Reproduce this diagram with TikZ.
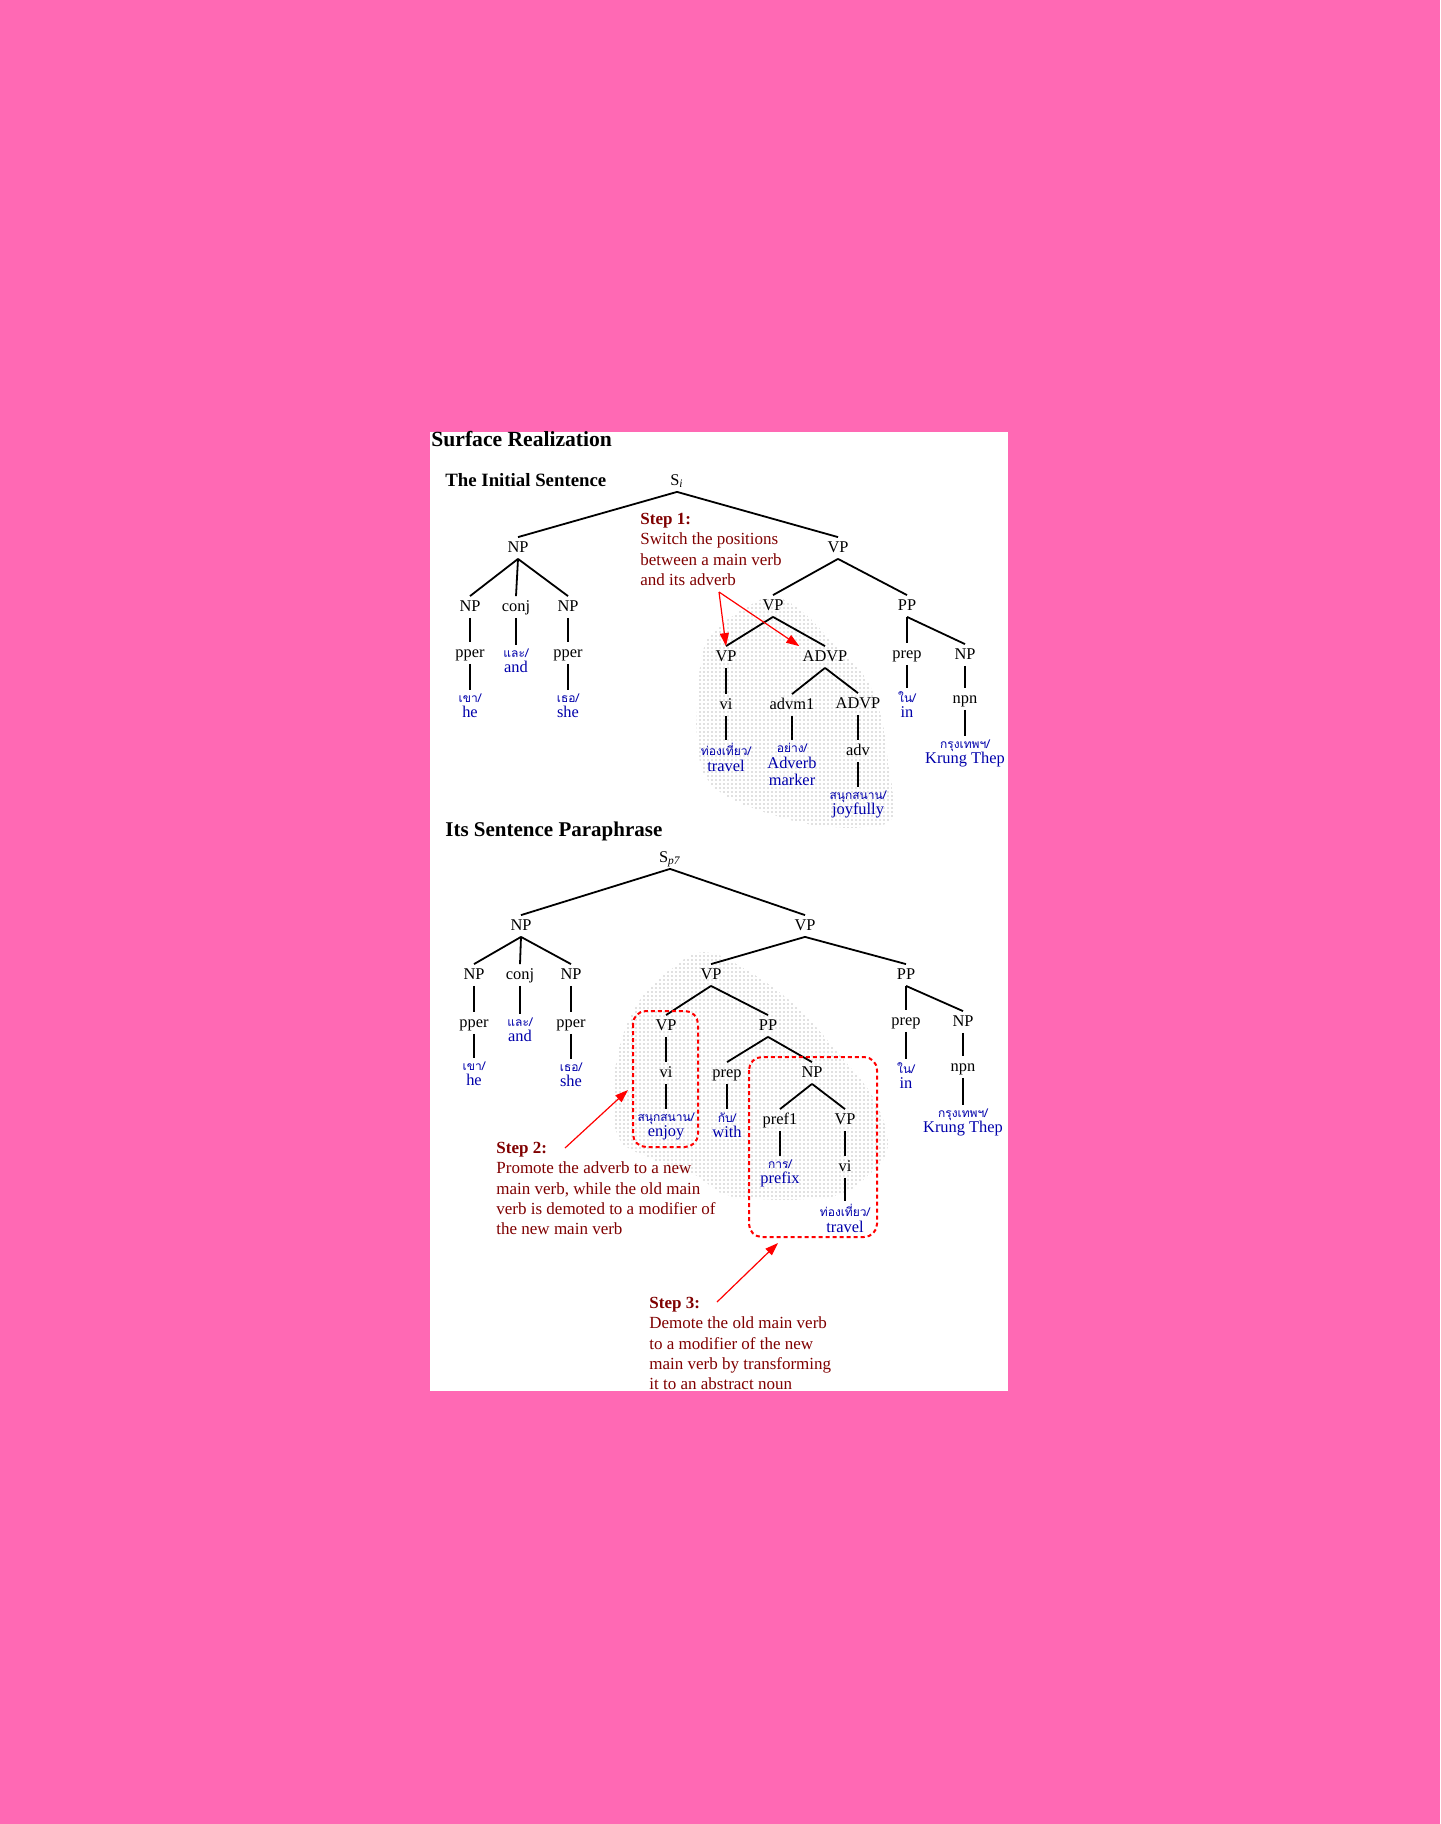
\documentclass[tikz,border=0pt]{standalone}
\usepackage{fontspec}
\setmainfont{Liberation Serif}
\newfontfamily\thaifont[Script=Thai]{Loma}
\usetikzlibrary{arrows.meta,patterns.meta}

\definecolor{bgpink}{RGB}{255,105,180}
\definecolor{stepred}{RGB}{128,0,0}
\definecolor{wordblue}{RGB}{0,0,170}

% Thai word over its English gloss
\newcommand{\thw}[2]{{\thaifont\fontsize{6}{6}\selectfont #1}\\#2}

\begin{document}
\begin{tikzpicture}[x=0.5pt, y=-0.5pt,
    cat/.style={font=\fontsize{8.2}{9.8}\selectfont, text height=6pt, text depth=1.5pt, inner sep=1.5pt},
    word/.style={anchor=north, align=center, text=wordblue, font=\fontsize{8.2}{7.8}\selectfont, inner sep=1.5pt},
    branch/.style={line width=0.9pt},
    steptext/.style={anchor=north west, align=left, text=stepred, font=\fontsize{8.5}{10.15}\selectfont, inner sep=0pt},
    title/.style={anchor=base west, inner sep=0pt},
    redbox/.style={draw=red, line width=1pt, dash pattern=on 2pt off 1.5pt, rounded corners=6.5pt},
    redarrow/.style={draw=red, line width=0.6pt, -{Triangle[length=6.5pt,width=4.5pt]}},
    shade/.style={pattern={Dots[distance=2pt,radius=0.36pt]}, pattern color=black!50}
]

% Page and panel
\fill[bgpink] (0,0) rectangle (1440,1824);
\fill[white] (430,432) rectangle (1008,1391);
\useasboundingbox (0,0) rectangle (1440,1824);

% Shaded parts of the trees
\fill[shade] plot[smooth cycle, tension=0.6] coordinates {(775,597) (803,612) (837,647) (867,680) (882,720) (888,760) (893,800) (885,824) (820,826) (745,805) (708,780) (697,740) (698,690) (705,645) (725,622) (752,604)};
\fill[shade] plot[smooth cycle, tension=0.6] coordinates {(705,952) (750,972) (797,1007) (840,1055) (875,1100) (888,1145) (872,1172) (830,1197) (735,1197) (695,1175) (650,1158) (620,1140) (613,1100) (620,1045) (640,1000) (670,970)};

% Titles
\node[title, font=\bfseries\fontsize{10.8}{12}\selectfont] (surf) at (431,446) {Surface Realization};
\node[title, font=\bfseries\fontsize{9.4}{11}\selectfont] (initial) at (445,486) {The Initial Sentence};
\node[title, font=\bfseries\fontsize{10.5}{12}\selectfont] (para) at (445,836) {Its Sentence Paraphrase};

% The initial sentence
\node[cat] (Si)     at (677,481) {S\textsubscript{\textit{i}}};
\node[cat] (tNP)    at (518,548) {NP};
\node[cat] (tVP)    at (838,548) {VP};
\node[cat] (tNPa)   at (470,607) {NP};
\node[cat] (tconj)  at (516,607) {conj};
\node[cat] (tNPb)   at (568,607) {NP};
\node[cat] (tVPa)   at (773,606) {VP};
\node[cat] (tPP)    at (907,606) {PP};
\node[cat] (tpperA) at (470,653) {pper};
\node[cat] (tpperB) at (568,653) {pper};
\node[cat] (tVPb)   at (726,657) {VP};
\node[cat] (tADVP)  at (825,657) {ADVP};
\node[cat] (tprep)  at (907,654) {prep};
\node[cat] (tNPc)   at (965,655) {NP};
\node[cat] (tvi)    at (726,705) {vi};
\node[cat] (tadvm)  at (792,705) {advm1};
\node[cat] (tADVPb) at (858,704) {ADVP};
\node[cat] (tnpn)   at (965,699) {npn};
\node[cat] (tadv)   at (858,751) {adv};

\node[word] (tand)    at (516,645) {\thw{และ/}{and}};
\node[word] (the)     at (470,690) {\thw{เขา/}{he}};
\node[word] (tshe)    at (568,690) {\thw{เธอ/}{she}};
\node[word] (tin)     at (907,688) {\thw{ใน/}{in}};
\node[word] (ttravel) at (726,740) {\thw{ท่องเที่ยว/}{travel}};
\node[word] (tmarker) at (792,740) {\thw{อย่าง/}{Adverb\\[0.7pt]marker}};
\node[word] (tkrung)  at (965,736) {\thw{กรุงเทพฯ/}{Krung Thep}};
\node[word] (tjoy)    at (858,787) {\thw{สนุกสนาน/}{joyfully}};

\foreach \a/\b in {Si/tNP, Si/tVP, tNP/tNPa, tNP/tconj, tNP/tNPb, tVP/tVPa, tVP/tPP,
    tNPa/tpperA, tpperA/the, tconj/tand, tNPb/tpperB, tpperB/tshe,
    tVPa/tVPb, tVPa/tADVP, tVPb/tvi, tvi/ttravel, tADVP/tadvm, tADVP/tADVPb,
    tadvm/tmarker, tADVPb/tadv, tadv/tjoy, tPP/tprep, tPP/tNPc, tprep/tin,
    tNPc/tnpn, tnpn/tkrung}
    \draw[branch] (\a.south) -- (\b.north);

% Its sentence paraphrase
\node[cat] (Sp)     at (670,858) {S\textsubscript{\textit{p7}}};
\node[cat] (bNP)    at (521,926) {NP};
\node[cat] (bVP)    at (805,926) {VP};
\node[cat] (bNPa)   at (474,975) {NP};
\node[cat] (bconj)  at (520,975) {conj};
\node[cat] (bNPb)   at (571,975) {NP};
\node[cat] (bVPa)   at (711,975) {VP};
\node[cat] (bPP)    at (906,975) {PP};
\node[cat] (bpperA) at (474,1023) {pper};
\node[cat] (bpperB) at (571,1023) {pper};
\node[cat] (bVPb)   at (666,1026) {VP};
\node[cat] (bPPa)   at (768,1026) {PP};
\node[cat] (bprepR) at (906,1021) {prep};
\node[cat] (bNPr)   at (963,1022) {NP};
\node[cat] (bvi)    at (666,1073) {vi};
\node[cat] (bprep)  at (727,1073) {prep};
\node[cat] (bNPc)   at (812,1073) {NP};
\node[cat] (bnpn)   at (963,1067) {npn};
\node[cat] (bpref)  at (780,1120) {pref1};
\node[cat] (bVPc)   at (845,1120) {VP};
\node[cat] (bvi2)   at (845,1167) {vi};

\node[word] (band)    at (520,1014) {\thw{และ/}{and}};
\node[word] (bhe)     at (474,1058) {\thw{เขา/}{he}};
\node[word] (bshe)    at (571,1059) {\thw{เธอ/}{she}};
\node[word] (binR)    at (906,1059) {\thw{ใน/}{in}};
\node[word] (benjoy)  at (666,1109) {\thw{สนุกสนาน/}{enjoy}};
\node[word] (bwith)   at (727,1109) {\thw{กับ/}{with}};
\node[word] (bkrung)  at (963,1105) {\thw{กรุงเทพฯ/}{Krung Thep}};
\node[word] (bprefix) at (780,1156) {\thw{การ/}{prefix}};
\node[word] (btravel) at (845,1201) {\thw{ท่องเที่ยว/}{travel}};

\foreach \a/\b in {Sp/bNP, Sp/bVP, bNP/bNPa, bNP/bconj, bNP/bNPb, bVP/bVPa, bVP/bPP,
    bNPa/bpperA, bpperA/bhe, bconj/band, bNPb/bpperB, bpperB/bshe,
    bVPa/bVPb, bVPa/bPPa, bVPb/bvi, bvi/benjoy, bPPa/bprep, bPPa/bNPc,
    bprep/bwith, bNPc/bpref, bNPc/bVPc, bpref/bprefix, bVPc/bvi2, bvi2/btravel,
    bPP/bprepR, bPP/bNPr, bprepR/binR, bNPr/bnpn, bnpn/bkrung}
    \draw[branch] (\a.south) -- (\b.north);

% Dashed frames
\draw[redbox] (633,1011) rectangle (698,1147);
\draw[redbox] (749,1057) rectangle (877,1237);

% Steps
\node[steptext] (step1) at (640,513) {\textbf{Step 1:}\\Switch the positions\\between a main verb\\and its adverb};
\node[steptext] (step2) at (496,1142) {\textbf{Step 2:}\\Promote the adverb to a new\\main verb, while the old main\\verb is demoted to a modifier of\\the new main verb};
\node[steptext] (step3) at (649,1297) {\textbf{Step 3:}\\Demote the old main verb\\to a modifier of the new\\main verb by transforming\\it to an abstract noun};

\coordinate (a1s) at (719,592);
\coordinate (a2s) at (565,1148);
\coordinate (a2e) at (628,1090);
\coordinate (a3s) at (717,1302);
\coordinate (a3e) at (778,1243);

\draw[redarrow] (a1s) -- (tVPb.north);
\draw[redarrow] (a1s) -- (tADVP.north west);
\draw[redarrow] (a2s) -- (a2e);
\draw[redarrow] (a3s) -- (a3e);

\end{tikzpicture}
\end{document}
